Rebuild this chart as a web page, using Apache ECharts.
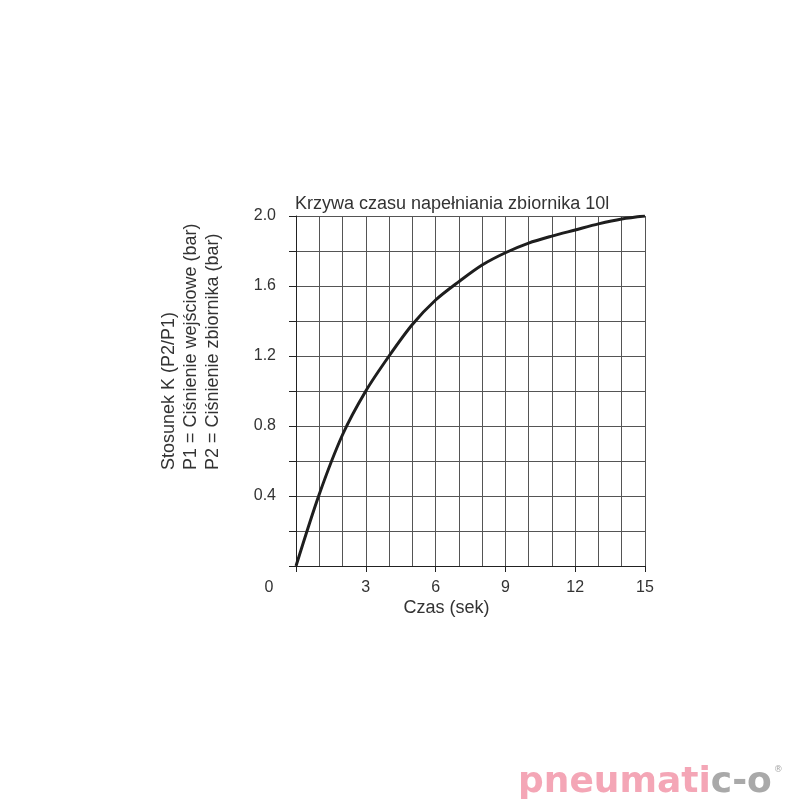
<!DOCTYPE html>
<html>
<head>
<meta charset="utf-8">
<script src="https://cdn.jsdelivr.net/npm/echarts@6/dist/echarts.min.js"></script>
<style>html,body{margin:0;padding:0;background:#fff}#c{width:800px;height:800px}</style>
</head>
<body>
<div id="c"></div>
<script>
// Data
var timeSec = [0, 1, 2, 3, 4, 5, 6, 7, 8, 9, 10, 11, 12, 13, 14, 15];
var ratioK = [0, 0.41, 0.75, 1.00, 1.20, 1.38, 1.52, 1.625, 1.72, 1.79, 1.845, 1.885, 1.92, 1.955, 1.983, 2.0];
var xTickLabels = ['0', '3', '6', '9', '12', '15'];
var yTickLabels = ['0.4', '0.8', '1.2', '1.6', '2.0'];
var titleText = 'Krzywa czasu napełniania zbiornika 10l';
var xAxisName = 'Czas (sek)';
var yAxisLines = ['Stosunek K (P2/P1)', 'P1 = Ciśnienie wejściowe (bar)', 'P2 = Ciśnienie zbiornika (bar)'];

var FONT = 'Liberation Sans, Arial, sans-serif';
var TXT = '#333333';
var GRID = '#555555';

var chart = echarts.init(document.getElementById('c'), null, {renderer: 'canvas'});
var seriesData = timeSec.map(function (t, i) { return [t, ratioK[i]]; });

chart.setOption({
  backgroundColor: '#ffffff',
  animation: false,
  title: {
    text: titleText,
    left: 290,
    top: 190,
    textStyle: {fontFamily: FONT, fontSize: 18, fontWeight: 'normal', color: TXT}
  },
  grid: {left: 296, right: 155, top: 216, bottom: 234, containLabel: false},
  xAxis: {
    type: 'value', min: 0, max: 15, interval: 3,
    name: xAxisName, nameLocation: 'middle', nameGap: 33,
    nameTextStyle: {fontFamily: FONT, fontSize: 18, color: TXT, padding: [0, 48, 0, 0]},
    axisLine: {show: true, lineStyle: {color: '#222', width: 1}},
    axisTick: {show: true, inside: false, length: 6, lineStyle: {color: '#222'}},
    minorTick: {show: false, splitNumber: 3},
    splitLine: {show: true, lineStyle: {color: GRID, width: 1}},
    minorSplitLine: {show: true, lineStyle: {color: GRID, width: 1}},
    axisLabel: {
      margin: 14, fontFamily: FONT, fontSize: 16, color: TXT,
      formatter: function (v) {
        var s = String(v);
        if (xTickLabels.indexOf(s) < 0) return '';
        if (v === 0) return '{z|' + s + '}';
        return s;
      },
      rich: {z: {fontFamily: FONT, fontSize: 16, color: TXT, padding: [0, 54, 0, 0]}}
    }
  },
  yAxis: {
    type: 'value', min: 0, max: 2, interval: 0.4,
    axisLine: {show: true, lineStyle: {color: '#222', width: 1}},
    axisTick: {show: true, length: 7, lineStyle: {color: '#222'}},
    minorTick: {show: true, splitNumber: 2, length: 7, lineStyle: {color: '#222'}},
    splitLine: {show: true, lineStyle: {color: GRID, width: 1}},
    minorSplitLine: {show: true, lineStyle: {color: GRID, width: 1}},
    axisLabel: {
      margin: 20, fontFamily: FONT, fontSize: 16, color: TXT,
      formatter: function (v) {
        var s = v.toFixed(1);
        return yTickLabels.indexOf(s) >= 0 ? s : '';
      }
    }
  },
  series: [{
    type: 'line',
    data: seriesData,
    smooth: 0.3,
    showSymbol: false,
    lineStyle: {color: '#1e1e1e', width: 3},
    z: 5
  }],
  graphic: [
    {
      type: 'text',
      x: 191, y: 470,
      rotation: Math.PI / 2,
      style: {
        text: yAxisLines.join('\n'),
        fontFamily: FONT, fontSize: 18, fill: TXT,
        lineHeight: 22,
        align: 'left', verticalAlign: 'middle'
      }
    },
    {
      type: 'text',
      x: 518, y: 783,
      style: {
        text: '{p|pneumati}{g|c-o}{r|®}',
        verticalAlign: 'middle',
        rich: {
          p: {fontFamily: 'DejaVu Sans', fontWeight: 'bold', fontSize: 36, fill: '#f4a6b6', color: '#f4a6b6'},
          g: {fontFamily: 'DejaVu Sans', fontWeight: 'bold', fontSize: 36, fill: '#a9a9a9', color: '#a9a9a9'},
          r: {fontFamily: 'DejaVu Sans', fontSize: 9, fill: '#a9a9a9', color: '#a9a9a9', verticalAlign: 'top', padding: [0, 0, 18, 2]}
        }
      }
    }
  ]
});
</script>
</body>
</html>
